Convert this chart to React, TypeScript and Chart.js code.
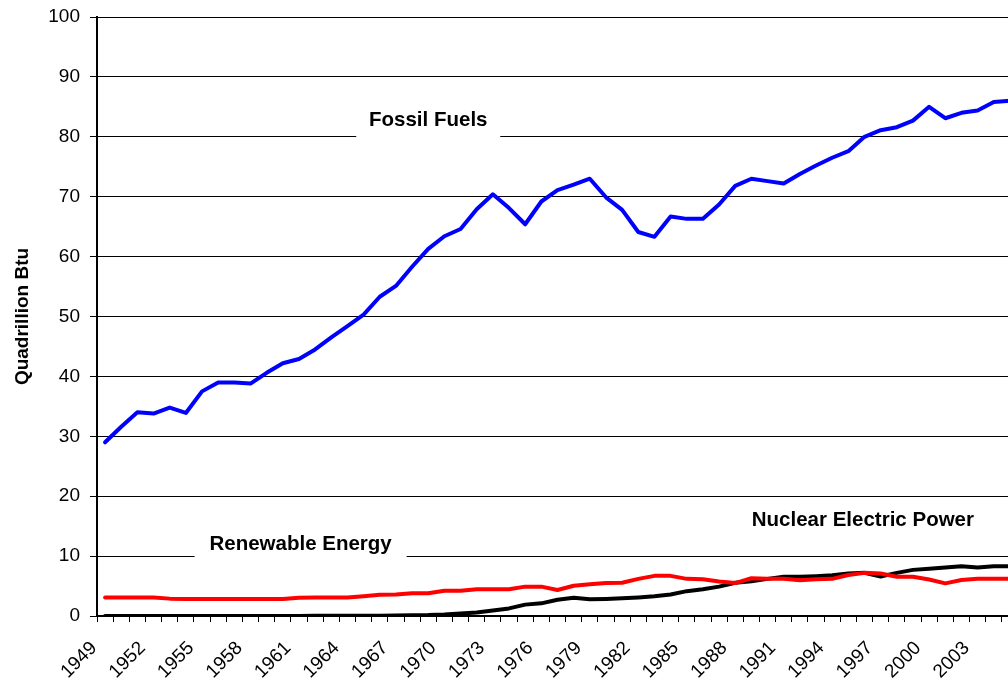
import React, { useEffect, useRef } from "react";
import { Chart, registerables } from "chart.js";

Chart.register(...registerables);

const years = [
  "1949", "1950", "1951", "1952", "1953", "1954", "1955", "1956", "1957", "1958",
  "1959", "1960", "1961", "1962", "1963", "1964", "1965", "1966", "1967", "1968",
  "1969", "1970", "1971", "1972", "1973", "1974", "1975", "1976", "1977", "1978",
  "1979", "1980", "1981", "1982", "1983", "1984", "1985", "1986", "1987", "1988",
  "1989", "1990", "1991", "1992", "1993", "1994", "1995", "1996", "1997", "1998",
  "1999", "2000", "2001", "2002", "2003", "2004", "2005",
];

const fossilFuels = [
  29.0, 31.6, 34.0, 33.8, 34.8, 33.9, 37.5, 39.0, 39.0, 38.8,
  40.6, 42.2, 42.9, 44.5, 46.5, 48.4, 50.3, 53.3, 55.1, 58.3,
  61.3, 63.4, 64.6, 67.9, 70.4, 68.1, 65.4, 69.2, 71.1, 72.0,
  73.0, 69.9, 67.8, 64.1, 63.3, 66.7, 66.3, 66.3, 68.7, 71.8,
  73.0, 72.6, 72.2, 73.8, 75.2, 76.5, 77.6, 80.0, 81.1, 81.6,
  82.7, 85.0, 83.1, 84.0, 84.4, 85.8, 86.0,
];

const renewableEnergy = [
  3.1, 3.1, 3.1, 3.1, 2.9, 2.85, 2.85, 2.85, 2.85, 2.85,
  2.85, 2.85, 3.05, 3.1, 3.1, 3.1, 3.3, 3.55, 3.6, 3.8,
  3.8, 4.2, 4.2, 4.45, 4.45, 4.45, 4.9, 4.9, 4.35, 5.05,
  5.3, 5.5, 5.55, 6.2, 6.7, 6.7, 6.2, 6.15, 5.75, 5.5,
  6.3, 6.2, 6.2, 5.95, 6.15, 6.2, 6.85, 7.2, 7.1, 6.55,
  6.55, 6.1, 5.45, 6.0, 6.2, 6.2, 6.2,
];

const nuclearPower = [
  0, 0, 0, 0, 0, 0, 0, 0, 0, 0,
  0, 0.01, 0.02, 0.03, 0.04, 0.04, 0.04, 0.06, 0.09, 0.14,
  0.15, 0.24, 0.41, 0.58, 0.91, 1.27, 1.9, 2.11, 2.7, 3.05,
  2.8, 2.85, 2.95, 3.1, 3.3, 3.6, 4.15, 4.45, 4.9, 5.55,
  5.8, 6.2, 6.55, 6.55, 6.65, 6.8, 7.1, 7.2, 6.6, 7.2,
  7.7, 7.9, 8.1, 8.3, 8.1, 8.3, 8.3,
];

const seriesNames = ["Fossil Fuels", "Renewable Energy", "Nuclear Electric Power"];
const yAxisTitle = "Quadrillion Btu";
const yMin = 0;
const yMax = 100;
const yStep = 10;

const FONT = '"Liberation Sans", Arial, sans-serif';

export default function App() {
  const ref = useRef<HTMLCanvasElement>(null);

  useEffect(() => {
    const canvas = ref.current;
    if (!canvas) return;

    // text boxes placed in data coordinates: [category index, value, half width, half height]
    const boxes: Array<[number, number, number, number]> = [
      [20.0, 82.8, 72, 20],
      [12.1, 11.9, 106, 20],
      [46.9, 15.9, 122, 18],
    ];

    const labelPlugin = {
      id: "seriesTextBoxes",
      afterDatasetsDraw(chart: any) {
        const ctx = chart.ctx;
        const xs = chart.scales.x;
        const ys = chart.scales.y;
        const step = xs.getPixelForValue(1) - xs.getPixelForValue(0);
        ctx.save();
        seriesNames.forEach((name, i) => {
          const [ix, v, hw, hh] = boxes[i];
          const cx = xs.getPixelForValue(0) + ix * step;
          const cy = ys.getPixelForValue(v);
          ctx.fillStyle = "#ffffff";
          ctx.fillRect(cx - hw, cy - hh, hw * 2, hh * 2);
          ctx.fillStyle = "#000000";
          ctx.font = `bold 20.5px ${FONT}`;
          ctx.textAlign = "center";
          ctx.textBaseline = "middle";
          ctx.fillText(name, cx, cy);
        });
        ctx.restore();
      },
    };

    const chart = new Chart(canvas, {
      type: "line",
      data: {
        labels: years,
        datasets: [
          { label: seriesNames[0], data: fossilFuels, borderColor: "#0000ff", backgroundColor: "#0000ff" },
          { label: seriesNames[1], data: renewableEnergy, borderColor: "#ff0000", backgroundColor: "#ff0000" },
          { label: seriesNames[2], data: nuclearPower, borderColor: "#000000", backgroundColor: "#000000" },
        ],
      },
      options: {
        animation: false,
        responsive: false,
        devicePixelRatio: 1,
        layout: { padding: { top: 17, left: 0, right: 0, bottom: 0 } },
        plugins: {
          legend: { display: false },
          tooltip: { enabled: false },
        },
        elements: {
          point: { radius: 0 },
          line: { borderWidth: 4, tension: 0, borderJoinStyle: "round", borderCapStyle: "round" },
        },
        scales: {
          x: {
            type: "category",
            offset: true,
            grid: {
              offset: true,
              drawOnChartArea: false,
              drawTicks: true,
              tickLength: 6,
              color: "#000000",
              lineWidth: 1,
            },
            border: { display: true, color: "#000000", width: 2 },
            ticks: {
              autoSkip: false,
              maxRotation: 45,
              minRotation: 45,
              color: "#000000",
              padding: 15,
              labelOffset: -11,
              font: { family: FONT, size: 19 },
              callback: (_v: any, i: number) => (i % 3 === 0 ? years[i] : ""),
            },
            afterFit: (s: any) => {
              s.height = 67;
              s.paddingLeft = 0;
              s.paddingRight = 0;
            },
          },
          y: {
            min: yMin,
            max: yMax,
            ticks: {
              stepSize: yStep,
              color: "#000000",
              padding: 10,
              font: { family: FONT, size: 19 },
            },
            grid: { color: "#000000", lineWidth: 1, tickLength: 7 },
            border: { display: true, color: "#000000", width: 2 },
            title: {
              display: true,
              text: yAxisTitle,
              color: "#000000",
              font: { family: FONT, size: 19, weight: "bold" },
              padding: { top: 11, bottom: 0 },
            },
            afterFit: (s: any) => {
              s.width = 97;
              s.paddingTop = 0;
              s.paddingBottom = 0;
            },
          },
        },
      },
      plugins: [labelPlugin],
    } as any);

    return () => chart.destroy();
  }, []);

  return (
    <div
      style={{
        position: "fixed",
        left: 0,
        top: 0,
        width: 1008,
        height: 683,
        overflow: "hidden",
        background: "#ffffff",
      }}
    >
      <canvas ref={ref} width={1018} height={683} style={{ display: "block" }} />
    </div>
  );
}
